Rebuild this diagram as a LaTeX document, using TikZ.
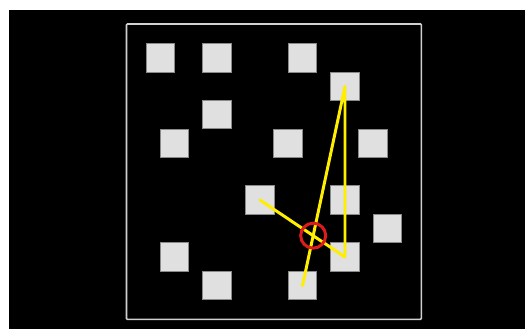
\documentclass[tikz,border=0pt]{standalone}
\usetikzlibrary{intersections}
\definecolor{tilefill}{HTML}{E0E0E0}
\definecolor{tileedge}{HTML}{8A8A8A}
\definecolor{framegray}{HTML}{D0D0D0}
\definecolor{routeyellow}{HTML}{FFEE00}
\definecolor{markred}{HTML}{DD1C1C}
\begin{document}
\begin{tikzpicture}[x=0.02cm, y=-0.02cm,
  tile/.style={draw=tileedge, fill=tilefill, line width=0.5pt, minimum size=0.568cm, inner sep=0pt},
  route/.style={routeyellow, line width=1.7pt, line join=round, line cap=round},
  hit/.style={circle, draw=markred, line width=1.7pt, minimum size=0.5cm, inner sep=0pt}]
% Background and frame
\useasboundingbox (0,0) rectangle (525,329);
\fill[white] (0,0) rectangle (525,329);
\fill[black] (9,10) rectangle (525,329);
\draw[framegray, line width=0.9pt, rounded corners=0.5pt] (126.5,24) rectangle (421.3,319.4);
% Tiles
\foreach \name/\x/\y in {a/160.5/58, b/217/58, c/302.5/58, d/345/86.5, e/217/114.7,
    f/174.5/143.5, g/288/143.5, h/373/143.5, i/260/200, j/345/200,
    k/387.5/228.5, l/174.5/257, m/345/257, n/217/285.7, o/302.5/285.7}
  \node[tile] (\name) at (\x,\y) {};
% Route
\draw[route] (i.center) -- (m.center) -- (d.center) -- (o.center);
\path[name path=legim] (i.center) -- (m.center);
\path[name path=legdo] (d.center) -- (o.center);
% Crossing
\node[hit, name intersections={of=legim and legdo}] (cross) at (intersection-1) {};
\end{tikzpicture}
\end{document}
